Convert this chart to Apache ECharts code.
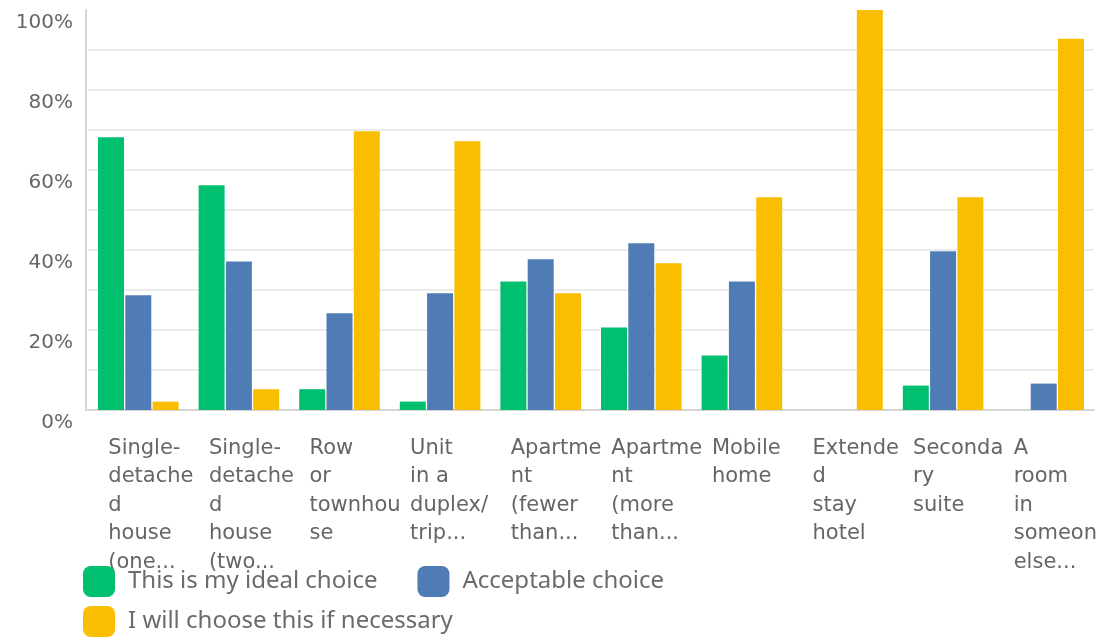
<!DOCTYPE html>
<html>
<head>
<meta charset="utf-8">
<script src="https://cdn.jsdelivr.net/npm/echarts@6/dist/echarts.min.js"></script>
<style>
html,body{margin:0;padding:0;background:#fff;}
#chart{width:1104px;height:641px;}
</style>
</head>
<body>
<div id="chart"></div>
<script>
var categories = [
  "Single-\ndetache\nd\nhouse\n(one...",
  "Single-\ndetache\nd\nhouse\n(two...",
  "Row\nor\ntownhou\nse",
  "Unit\nin a\nduplex/\ntrip...",
  "Apartme\nnt\n(fewer\nthan...",
  "Apartme\nnt\n(more\nthan...",
  "Mobile\nhome",
  "Extende\nd\nstay\nhotel",
  "Seconda\nry\nsuite",
  "A\nroom\nin\nsomeon\nelse..."
];
var seriesNames = ["This is my ideal choice", "Acceptable choice", "I will choose this if necessary"];
var idealChoice = [68.2, 56.2, 5.2, 2.1, 32.1, 20.6, 13.6, 0, 6.1, 0];
var acceptableChoice = [28.7, 37.1, 24.2, 29.2, 37.7, 41.7, 32.1, 0, 39.7, 6.6];
var ifNecessary = [2.1, 5.2, 69.7, 67.2, 29.2, 36.7, 53.2, 100, 53.2, 92.8];
var yTicks = [0, 20, 40, 60, 80, 100];
var colors = ["#00BF6F", "#507CB6", "#F9BE00"];

var chart = echarts.init(document.getElementById('chart'), null, {renderer: 'canvas'});

function bar(name, data, color) {
  return {
    name: name,
    type: 'bar',
    data: data,
    barWidth: 26,
    barGap: '5%',
    itemStyle: {color: color},
    emphasis: {disabled: true},
    animation: false
  };
}

var splitColors = [];
for (var i = 0; i <= 10; i++) splitColors.push(i === 0 || i === 10 ? 'rgba(0,0,0,0)' : '#ececec');

chart.setOption({
  backgroundColor: '#fff',
  animation: false,
  grid: {left: 88, right: 10, top: 10, bottom: 231, containLabel: false},
  legend: [
    {
      data: [seriesNames[0], seriesNames[1]],
      left: 78, top: 561,
      orient: 'horizontal',
      itemWidth: 32, itemHeight: 31,
      itemGap: 40,
      icon: 'roundRect',
      selectedMode: false,
      textStyle: {fontFamily: 'Noto Sans', fontSize: 24, color: '#6b6b6b', padding: [0, 0, 0, 8]}
    },
    {
      data: [seriesNames[2]],
      left: 78, top: 601,
      itemWidth: 32, itemHeight: 31,
      icon: 'roundRect',
      selectedMode: false,
      textStyle: {fontFamily: 'Noto Sans', fontSize: 24, color: '#6b6b6b', padding: [0, 0, 0, 8]}
    }
  ],
  xAxis: {
    type: 'category',
    data: categories,
    axisLine: {show: true, lineStyle: {color: '#d4d4d4', width: 2}},
    axisTick: {show: false},
    axisLabel: {
      interval: 0,
      margin: 24,
      verticalAlign: 'top',
      formatter: function (v) {
        return v.split('\n').map(function (l) { return '{a|' + l + '}'; }).join('\n');
      },
      rich: {
        a: {
          width: 60,
          align: 'left',
          fontFamily: 'DejaVu Sans',
          fontSize: 21,
          lineHeight: 28.5,
          color: '#666'
        }
      }
    },
    splitLine: {show: false}
  },
  yAxis: {
    type: 'value',
    min: 0, max: 100, interval: 10,
    offset: 2,
    axisLine: {show: true, lineStyle: {color: '#d4d4d4', width: 2}},
    axisTick: {show: false},
    axisLabel: {
      margin: 13,
      verticalAlign: 'top',
      lineHeight: 20,
      padding: [3, 0, 0, 0],
      fontFamily: 'DejaVu Sans',
      fontSize: 20,
      color: '#666',
      formatter: function (v) { return yTicks.indexOf(v) >= 0 ? v + '%' : ''; }
    },
    splitLine: {show: true, lineStyle: {color: splitColors, width: 2}}
  },
  series: [
    bar(seriesNames[0], idealChoice, colors[0]),
    bar(seriesNames[1], acceptableChoice, colors[1]),
    bar(seriesNames[2], ifNecessary, colors[2])
  ]
});
</script>
</body>
</html>
